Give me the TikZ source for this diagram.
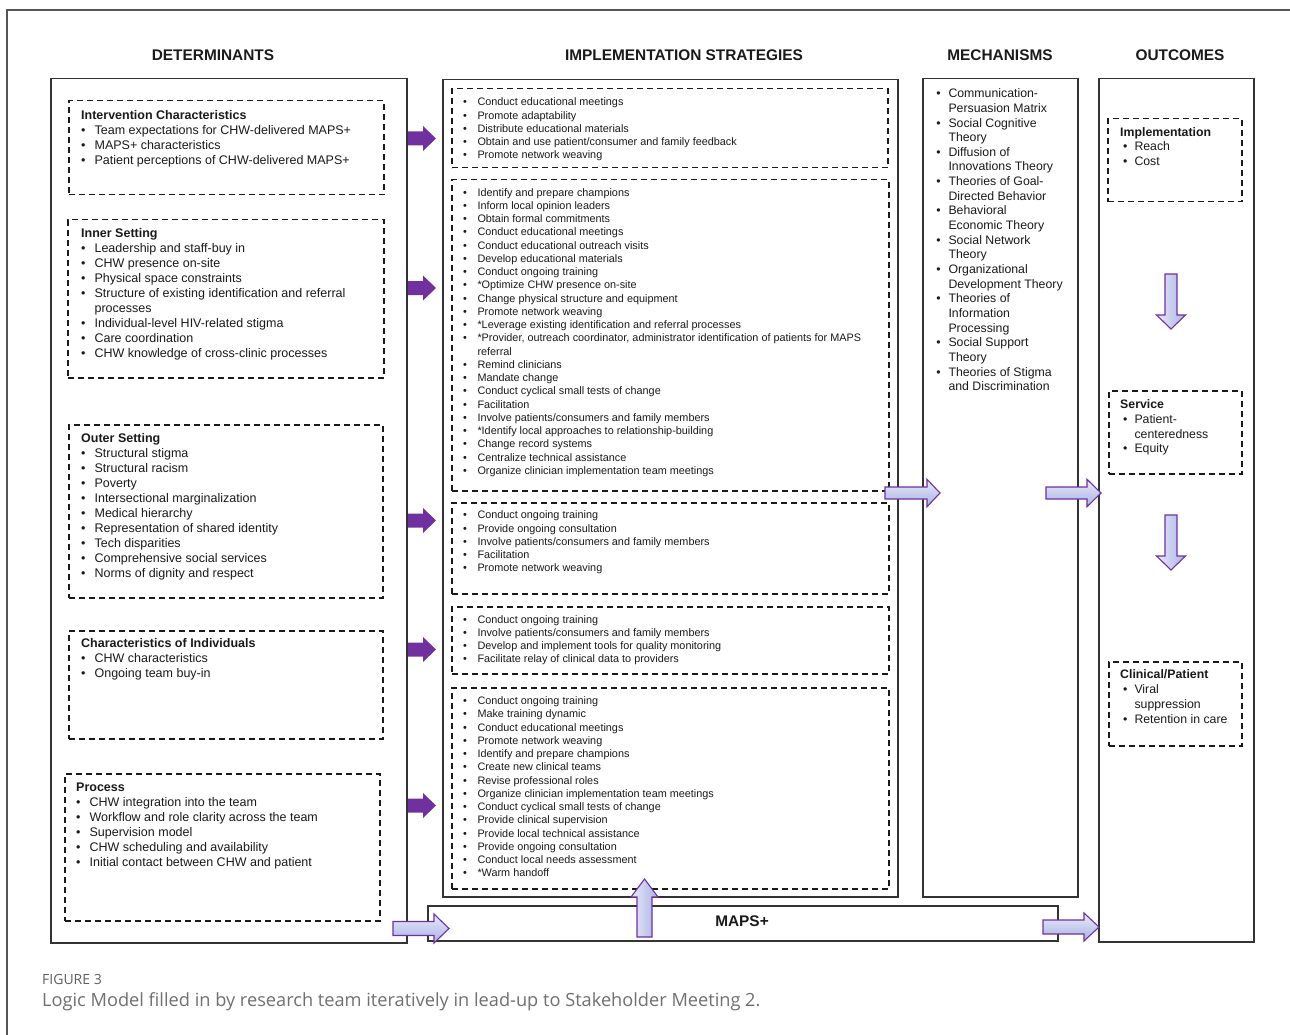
\documentclass[tikz,border=0pt]{standalone}
\usepackage{fontspec}
\setmainfont{Liberation Sans}
\newfontfamily\capfont{Open Sans}
\usetikzlibrary{calc}
\definecolor{ink}{HTML}{1A1A1A}
\definecolor{framegray}{HTML}{333333}
\definecolor{outergray}{HTML}{555555}
\definecolor{purp}{HTML}{7030A0}
\definecolor{lavtop}{HTML}{E8EAFA}
\definecolor{lavbot}{HTML}{A9B1E3}
\definecolor{capgray}{HTML}{707070}
\newlength\bind
\newlength\bwid
\newcommand\bu{\hspace*{\bind}\makebox[\bwid][l]{\textbullet}}
\newcommand\co{\hspace*{\bind}\hspace*{\bwid}}
% horizontal block arrow: style, start, end, shaft half, head half, head length
\newcommand\harrow[6]{\path[#1] let \p1=(#2),\p2=(#3) in
  (\x1,\y1+#4pt) -- (\x2-#6pt,\y1+#4pt) -- (\x2-#6pt,\y1+#5pt) -- (\x2,\y1)
  -- (\x2-#6pt,\y1-#5pt) -- (\x2-#6pt,\y1-#4pt) -- (\x1,\y1-#4pt) -- cycle;}
% vertical block arrow: style, start, end, shaft half, head half, head length, sign (- for up, + for down)
\newcommand\varrow[7]{\path[#1] let \p1=(#2),\p2=(#3) in
  (\x1+#4pt,\y1) -- (\x1+#4pt,\y2#7#6pt) -- (\x1+#5pt,\y2#7#6pt) -- (\x1,\y2)
  -- (\x1-#5pt,\y2#7#6pt) -- (\x1-#4pt,\y2#7#6pt) -- (\x1-#4pt,\y1) -- cycle;}
\begin{document}
\begin{tikzpicture}[x=1pt,y=-1pt,
  colbox/.style={draw=framegray, line width=1.5pt, inner sep=0, anchor=north west},
  dbox/.style={draw=ink, line width=1.5pt, dash pattern=on 6pt off 4pt, inner sep=0, anchor=north west},
  head/.style={font=\fontsize{15.4}{18}\selectfont\bfseries, text=ink, inner sep=0},
  detlist/.style={anchor=base west, align=left, inner sep=0, text=ink,
    font={\fontsize{12.5}{15}\selectfont\setlength\bind{0pt}\setlength\bwid{13.4pt}}},
  strlist/.style={anchor=base west, align=left, inner sep=0, text=ink,
    font={\fontsize{10.85}{13.25}\selectfont\setlength\bind{0pt}\setlength\bwid{14.5pt}}},
  mechlist/.style={anchor=base west, align=left, inner sep=0, text=ink,
    font={\fontsize{12.3}{14.65}\selectfont\setlength\bind{0pt}\setlength\bwid{12.2pt}}},
  outlist/.style={anchor=base west, align=left, inner sep=0, text=ink,
    font={\fontsize{12.3}{14.8}\selectfont\setlength\bind{2.8pt}\setlength\bwid{11.5pt}}},
  parr/.style={fill=purp},
  larr/.style={draw=purp, line width=1.1pt, top color=lavtop, bottom color=lavbot},
  lvarr/.style={draw=purp, line width=1.1pt, left color=lavtop, right color=lavbot}
]
\useasboundingbox (0,0) rectangle (1290,1035);
\fill[white] (0,0) rectangle (1290,1035);
\draw[outergray, line width=1.1pt] (7,1035) -- (7,10) -- (1290,10);

% column headings
\node[head] (hdet) at (213,55) {DETERMINANTS};
\node[head] (hstr) at (684,55) {IMPLEMENTATION STRATEGIES};
\node[head] (hmech) at (1000,55) {MECHANISMS};
\node[head] (hout) at (1180,55) {OUTCOMES};

% column boxes
\node[colbox, minimum width=356pt, minimum height=864pt] (det) at (50,78) {};
\node[colbox, minimum width=455pt, minimum height=817pt] (strat) at (442,79) {};
\node[colbox, minimum width=155pt, minimum height=818pt] (mech) at (922,78) {};
\node[colbox, minimum width=155pt, minimum height=863pt] (out) at (1098,78) {};
\node[colbox, minimum width=630pt, minimum height=35pt] (maps) at (427,905) {};
\node[font=\fontsize{15.4}{18}\selectfont\bfseries, text=ink, inner sep=0] (mapst) at (742,921) {MAPS+};

% determinant dashed boxes
\node[dbox, minimum width=315pt, minimum height=94pt] (d1) at (68,100) {};
\node[dbox, minimum width=316pt, minimum height=158pt] (d2) at (67,219) {};
\node[dbox, minimum width=314pt, minimum height=173pt] (d3) at (68,424) {};
\node[dbox, minimum width=314pt, minimum height=108pt] (d4) at (68,630) {};
\node[dbox, minimum width=315pt, minimum height=147pt] (d5) at (64,773) {};

% strategy dashed boxes
\node[dbox, minimum width=436pt, minimum height=79pt] (s1) at (451,88) {};
\node[dbox, minimum width=437pt, minimum height=311pt] (s2) at (451,179) {};
\node[dbox, minimum width=437pt, minimum height=91pt] (s3) at (451,502) {};
\node[dbox, minimum width=437pt, minimum height=67pt] (s4) at (451,606) {};
\node[dbox, minimum width=437pt, minimum height=201pt] (s5) at (451,687) {};

% outcome dashed boxes
\node[dbox, minimum width=134pt, minimum height=83pt] (o1) at (1107,118) {};
\node[dbox, minimum width=133pt, minimum height=83pt] (o2) at (1108,390) {};
\node[dbox, minimum width=133pt, minimum height=84pt] (o3) at (1108,661) {};

% determinant texts (anchored at the baseline of the last line)
\node[detlist] (t1) at (81,165) {\textbf{Intervention Characteristics}\\
  \bu Team expectations for CHW-delivered MAPS+\\
  \bu MAPS+ characteristics\\
  \bu Patient perceptions of CHW-delivered MAPS+};
\node[detlist] (t2) at (81,357.8) {\textbf{Inner Setting}\\
  \bu Leadership and staff-buy in\\
  \bu CHW presence on-site\\
  \bu Physical space constraints\\
  \bu Structure of existing identification and referral\\
  \co processes\\
  \bu Individual-level HIV-related stigma\\
  \bu Care coordination\\
  \bu CHW knowledge of cross-clinic processes};
\node[detlist] (t3) at (81,577.8) {\textbf{Outer Setting}\\
  \bu Structural stigma\\
  \bu Structural racism\\
  \bu Poverty\\
  \bu Intersectional marginalization\\
  \bu Medical hierarchy\\
  \bu Representation of shared identity\\
  \bu Tech disparities\\
  \bu Comprehensive social services\\
  \bu Norms of dignity and respect};
\node[detlist] (t4) at (81,677.8) {\textbf{Characteristics of Individuals}\\
  \bu CHW characteristics\\
  \bu Ongoing team buy-in};
\node[detlist] (t5) at (76,866.8) {\textbf{Process}\\
  \bu CHW integration into the team\\
  \bu Workflow and role clarity across the team\\
  \bu Supervision model\\
  \bu CHW scheduling and availability\\
  \bu Initial contact between CHW and patient};

% strategy texts
\node[strlist] (u1) at (462.8,158.8) {\bu Conduct educational meetings\\
  \bu Promote adaptability\\
  \bu Distribute educational materials\\
  \bu Obtain and use patient/consumer and family feedback\\
  \bu Promote network weaving};
\node[strlist] (u2) at (462.8,474.35) {\bu Identify and prepare champions\\
  \bu Inform local opinion leaders\\
  \bu Obtain formal commitments\\
  \bu Conduct educational meetings\\
  \bu Conduct educational outreach visits\\
  \bu Develop educational materials\\
  \bu Conduct ongoing training\\
  \bu *Optimize CHW presence on-site\\
  \bu Change physical structure and equipment\\
  \bu Promote network weaving\\
  \bu *Leverage existing identification and referral processes\\
  \bu *Provider, outreach coordinator, administrator identification of patients for MAPS\\
  \co referral\\
  \bu Remind clinicians\\
  \bu Mandate change\\
  \bu Conduct cyclical small tests of change\\
  \bu Facilitation\\
  \bu Involve patients/consumers and family members\\
  \bu *Identify local approaches to relationship-building\\
  \bu Change record systems\\
  \bu Centralize technical assistance\\
  \bu Organize clinician implementation team meetings};
\node[strlist] (u3) at (462.8,571.8) {\bu Conduct ongoing training\\
  \bu Provide ongoing consultation\\
  \bu Involve patients/consumers and family members\\
  \bu Facilitation\\
  \bu Promote network weaving};
\node[strlist] (u4) at (462.8,662.85) {\bu Conduct ongoing training\\
  \bu Involve patients/consumers and family members\\
  \bu Develop and implement tools for quality monitoring\\
  \bu Facilitate relay of clinical data to providers};
\node[strlist] (u5) at (462.8,876.75) {\bu Conduct ongoing training\\
  \bu Make training dynamic\\
  \bu Conduct educational meetings\\
  \bu Promote network weaving\\
  \bu Identify and prepare champions\\
  \bu Create new clinical teams\\
  \bu Revise professional roles\\
  \bu Organize clinician implementation team meetings\\
  \bu Conduct cyclical small tests of change\\
  \bu Provide clinical supervision\\
  \bu Provide local technical assistance\\
  \bu Provide ongoing consultation\\
  \bu Conduct local needs assessment\\
  \bu *Warm handoff};

% mechanisms text
\node[mechlist] (m1) at (936.1,390.7) {\bu Communication-\\
  \co Persuasion Matrix\\
  \bu Social Cognitive\\
  \co Theory\\
  \bu Diffusion of\\
  \co Innovations Theory\\
  \bu Theories of Goal-\\
  \co Directed Behavior\\
  \bu Behavioral\\
  \co Economic Theory\\
  \bu Social Network\\
  \co Theory\\
  \bu Organizational\\
  \co Development Theory\\
  \bu Theories of\\
  \co Information\\
  \co Processing\\
  \bu Social Support\\
  \co Theory\\
  \bu Theories of Stigma\\
  \co and Discrimination};

% outcome texts
\node[outlist] (v1) at (1120,165.7) {\textbf{Implementation}\\
  \bu Reach\\
  \bu Cost};
\node[outlist] (v2) at (1120,452.8) {\textbf{Service}\\
  \bu Patient-\\
  \co centeredness\\
  \bu Equity};
\node[outlist] (v3) at (1120,723.1) {\textbf{Clinical/Patient}\\
  \bu Viral\\
  \co suppression\\
  \bu Retention in care};

% arrow end points
\coordinate (pa1s) at (408,138.5); \coordinate (pa1e) at (436,138.5);
\coordinate (pa2s) at (408,288);   \coordinate (pa2e) at (436,288);
\coordinate (pa3s) at (408,520.5); \coordinate (pa3e) at (436,520.5);
\coordinate (pa4s) at (408,649.5); \coordinate (pa4e) at (436,649.5);
\coordinate (pa5s) at (408,805.5); \coordinate (pa5e) at (436,805.5);
\coordinate (smS) at (885,493);  \coordinate (smE) at (940,493);
\coordinate (moS) at (1046,493); \coordinate (moE) at (1101,493);
\coordinate (mpoS) at (1043,927); \coordinate (mpoE) at (1099,927);
\coordinate (dmS) at (393,928.5); \coordinate (dmE) at (449,928.5);
\coordinate (upS) at (644.5,937); \coordinate (upE) at (644.5,879);
\coordinate (dn1S) at (1171,274); \coordinate (dn1E) at (1171,329);
\coordinate (dn2S) at (1171,515); \coordinate (dn2E) at (1171,570);

% purple arrows
\harrow{parr}{pa1s}{pa1e}{7}{12.5}{13}
\harrow{parr}{pa2s}{pa2e}{7}{12.5}{13}
\harrow{parr}{pa3s}{pa3e}{7}{12.5}{13}
\harrow{parr}{pa4s}{pa4e}{7}{12.5}{13}
\harrow{parr}{pa5s}{pa5e}{7}{12.5}{13}

% lavender arrows
\harrow{larr}{smS}{smE}{6}{13.7}{13}
\harrow{larr}{moS}{moE}{6}{13.7}{14}
\harrow{larr}{mpoS}{mpoE}{7}{14}{15}
\harrow{larr}{dmS}{dmE}{7}{14.5}{15}
\varrow{lvarr}{upS}{upE}{7.5}{13.5}{18}{-}
\varrow{lvarr}{dn1S}{dn1E}{6}{14.5}{14}{+}
\varrow{lvarr}{dn2S}{dn2E}{6}{14.5}{14}{+}

% caption
\node[anchor=base west, inner sep=0, text=capgray!85!black, font=\capfont\fontsize{14}{16}\selectfont] (fig) at (42,984) {FIGURE 3};
\node[anchor=base west, inner sep=0, text=capgray, font=\capfont\fontsize{18.2}{20}\selectfont] (cap) at (42,1006) {Logic Model filled in by research team iteratively in lead-up to Stakeholder Meeting 2.};
\end{tikzpicture}
\end{document}
